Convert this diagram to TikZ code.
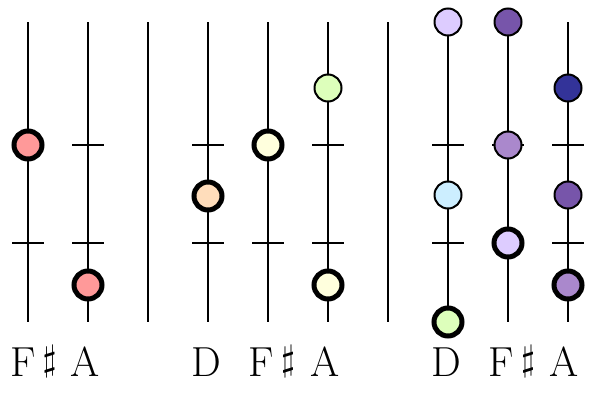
\documentclass[tikz,border=0pt]{standalone}
\definecolor{cred}{HTML}{FF9999}
\definecolor{cpeach}{HTML}{FFDDBB}
\definecolor{cyel}{HTML}{FFFFDD}
\definecolor{cgreen}{HTML}{DDFFBB}
\definecolor{clav}{HTML}{DDCCFF}
\definecolor{cblue}{HTML}{CCEEFF}
\definecolor{cpurp}{HTML}{7755AA}
\definecolor{clpurp}{HTML}{AA88CC}
\definecolor{cdblue}{HTML}{333399}
\newcommand{\shp}{\raisebox{0.12em}{\scalebox{3.6}{\normalsize$\sharp$}}}
\begin{document}
\begin{tikzpicture}[x=1pt,y=-1pt,
  string/.style={line width=2pt},
  fret/.style={line width=2pt},
  thinnote/.style={circle,draw=black,line width=2pt,minimum size=27pt,inner sep=0pt},
  thicknote/.style={circle,draw=black,line width=5pt,minimum size=28pt,inner sep=0pt},
  lab/.style={anchor=base,inner sep=0pt,font=\fontsize{42}{42}\selectfont}]
\useasboundingbox (0,0) rectangle (601,394);
% strings and separators
\foreach \n/\x in {s1/28,s2/88,b1/148,s3/208,s4/268,s5/328,b2/388,s6/448,s7/508,s8/568}{
  \coordinate (\n t) at (\x,22);
  \coordinate (\n b) at (\x,322);
  \draw[string] (\n t) -- (\n b);
}
% frets
\foreach \n/\x in {s1/28,s2/88,s3/208,s4/268,s5/328,s6/448,s7/508,s8/568}{
  \foreach \y/\k in {145/u,243/l}{
    \coordinate (\n\k L) at (\x-16,\y);
    \coordinate (\n\k R) at (\x+16,\y);
    \draw[fret] (\n\k L) -- (\n\k R);
  }
}
% group 1
\node[thicknote,fill=cred] (n1) at (28,145) {};
\node[thicknote,fill=cred] (n2) at (88,285) {};
% group 2
\node[thicknote,fill=cpeach] (n3) at (208,196) {};
\node[thicknote,fill=cyel] (n4) at (268,145) {};
\node[thinnote,fill=cgreen] (n5) at (328,88) {};
\node[thicknote,fill=cyel] (n6) at (328,285) {};
% group 3
\node[thinnote,fill=clav] (n7) at (448,22) {};
\node[thinnote,fill=cblue] (n8) at (448,195) {};
\node[thicknote,fill=cgreen] (n9) at (448,322) {};
\node[thinnote,fill=cpurp] (n10) at (508,22) {};
\node[thinnote,fill=clpurp] (n11) at (508,145) {};
\node[thicknote,fill=clav] (n12) at (508,243) {};
\node[thinnote,fill=cdblue] (n13) at (568,88) {};
\node[thinnote,fill=cpurp] (n14) at (568,195) {};
\node[thicknote,fill=clpurp] (n15) at (568,285) {};
% labels
\node[lab] (l1) at (33.5,376) {F\,\shp};
\node[lab] (l2) at (85,376) {A};
\node[lab] (l3) at (206,376) {D};
\node[lab] (l4) at (272,376) {F\,\shp};
\node[lab] (l5) at (325,376) {A};
\node[lab] (l6) at (446,376) {D};
\node[lab] (l7) at (512,376) {F\,\shp};
\node[lab] (l8) at (564.5,376) {A};
\end{tikzpicture}
\end{document}
